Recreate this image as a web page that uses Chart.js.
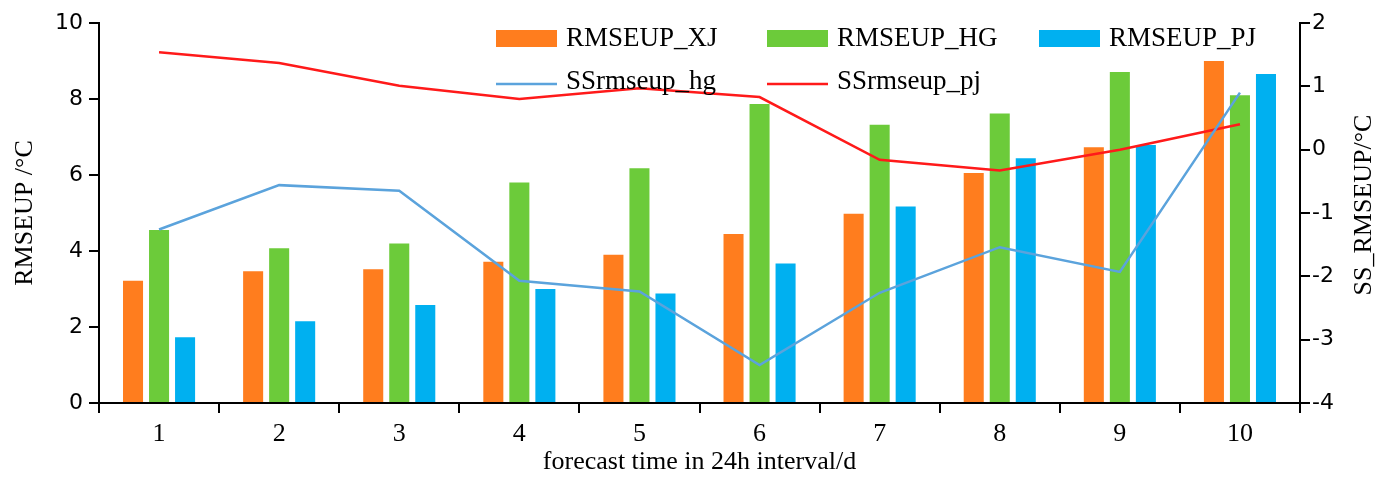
<!DOCTYPE html>
<html>
<head>
<meta charset="utf-8">
<script src="https://cdn.jsdelivr.net/npm/chart.js@4.4.1/dist/chart.umd.min.js"></script>
<style>
  html, body { margin: 0; padding: 0; background: #fff; }
</style>
</head>
<body>
<canvas id="chart" width="1391" height="481"></canvas>
<script>
// forecast day (24h interval)
const days = ["1", "2", "3", "4", "5", "6", "7", "8", "9", "10"];

// bars, left axis (°C)
const rmseupXJ = [3.22, 3.47, 3.52, 3.72, 3.90, 4.45, 4.98, 6.05, 6.73, 9.00];
const rmseupHG = [4.55, 4.07, 4.20, 5.80, 6.18, 7.87, 7.32, 7.62, 8.71, 8.10];
const rmseupPJ = [1.73, 2.15, 2.58, 3.00, 2.88, 3.67, 5.17, 6.44, 6.79, 8.66];

// lines, right axis
const ssRmseupHG = [-1.26, -0.56, -0.65, -2.07, -2.24, -3.40, -2.26, -1.54, -1.93, 0.90];
const ssRmseupPJ = [1.54, 1.37, 1.01, 0.80, 0.97, 0.83, -0.16, -0.33, 0.00, 0.40];

const serif = "'Liberation Serif', 'Times New Roman', serif";
const sans = "'DejaVu Sans', Verdana, sans-serif";

// legend sits inside the plot, two rows
const legendBox = {
    id: "legendBox",
    afterDraw(chart) {
        const ctx = chart.ctx;
        const ds = chart.data.datasets;
        const cols = [496, 767, 1039];
        ctx.save();
        ctx.font = "27px " + serif;
        ctx.textBaseline = "alphabetic";
        ctx.textAlign = "left";
        [0, 1, 2].forEach((k, i) => {
            ctx.fillStyle = ds[k].backgroundColor;
            ctx.fillRect(cols[i], 30, 61, 17);
            ctx.fillStyle = "#000";
            ctx.fillText(ds[k].label, cols[i] + 70, 46);
        });
        [3, 4].forEach((k, i) => {
            ctx.strokeStyle = ds[k].borderColor;
            ctx.lineWidth = 2.5;
            ctx.beginPath();
            ctx.moveTo(cols[i], 84);
            ctx.lineTo(cols[i] + 61, 84);
            ctx.stroke();
            ctx.fillStyle = "#000";
            ctx.fillText(ds[k].label, cols[i] + 70, 89);
        });
        ctx.restore();
    }
};

// right axis title reads bottom-to-top like the left one
const rightTitle = {
    id: "rightTitle",
    afterDraw(chart) {
        const ctx = chart.ctx;
        ctx.save();
        ctx.translate(1364, 205);
        ctx.rotate(-Math.PI / 2);
        ctx.font = "26px " + serif;
        ctx.fillStyle = "#000";
        ctx.textAlign = "center";
        ctx.textBaseline = "middle";
        ctx.fillText("SS_RMSEUP/°C", 0, 0);
        ctx.restore();
    }
};

window.onload = () => {
    const ctx = document.getElementById("chart");

    new Chart(ctx, {
        type: "bar",
        data: {
            labels: days,
            datasets: [
                { label: "RMSEUP_XJ", data: rmseupXJ, backgroundColor: "#ff7d1e", yAxisID: "y", order: 2 },
                { label: "RMSEUP_HG", data: rmseupHG, backgroundColor: "#6ccb3a", yAxisID: "y", order: 2 },
                { label: "RMSEUP_PJ", data: rmseupPJ, backgroundColor: "#00b0f0", yAxisID: "y", order: 2 },
                { type: "line", label: "SSrmseup_hg", data: ssRmseupHG, borderColor: "#5ba3dc", borderWidth: 2.5,
                  pointRadius: 0, tension: 0, yAxisID: "y2", order: 1 },
                { type: "line", label: "SSrmseup_pj", data: ssRmseupPJ, borderColor: "#ff1a1a", borderWidth: 2.5,
                  pointRadius: 0, tension: 0, yAxisID: "y2", order: 1 }
            ]
        },
        options: {
            responsive: false,
            animation: false,
            layout: { padding: { top: 23, left: 0, right: 0, bottom: 0 } },
            datasets: { bar: { categoryPercentage: 0.65, barPercentage: 0.77 } },
            plugins: { legend: { display: false }, tooltip: { enabled: false } },
            scales: {
                x: {
                    offset: true,
                    grid: { drawOnChartArea: false, offset: true, color: "#000", lineWidth: 2, tickLength: 10 },
                    border: { color: "#000", width: 2 },
                    ticks: { color: "#000", font: { family: serif, size: 26 }, padding: 6 },
                    title: { display: true, text: "forecast time in 24h interval/d", color: "#000",
                             font: { family: serif, size: 26 }, padding: { top: 0, bottom: 3 } },
                    afterFit(s) { s.height = 78; }
                },
                y: {
                    position: "left",
                    min: 0, max: 10,
                    ticks: { stepSize: 2, color: "#000", font: { family: sans, size: 22 }, padding: 6 },
                    grid: { drawOnChartArea: false, color: "#000", lineWidth: 2, tickLength: 10 },
                    border: { color: "#000", width: 2 },
                    title: { display: true, text: "RMSEUP /°C", color: "#000",
                             font: { family: serif, size: 26 }, padding: { top: 10, bottom: 0 } },
                    afterFit(s) { s.width = 99; }
                },
                y2: {
                    position: "right",
                    min: -4, max: 2,
                    ticks: { stepSize: 1, color: "#000", font: { family: sans, size: 22 }, padding: 2 },
                    grid: { drawOnChartArea: false, color: "#000", lineWidth: 2, tickLength: 10 },
                    border: { color: "#000", width: 2 },
                    afterFit(s) { s.width = 91; }
                }
            }
        },
        plugins: [legendBox, rightTitle]
    });
};
</script>
</body>
</html>
